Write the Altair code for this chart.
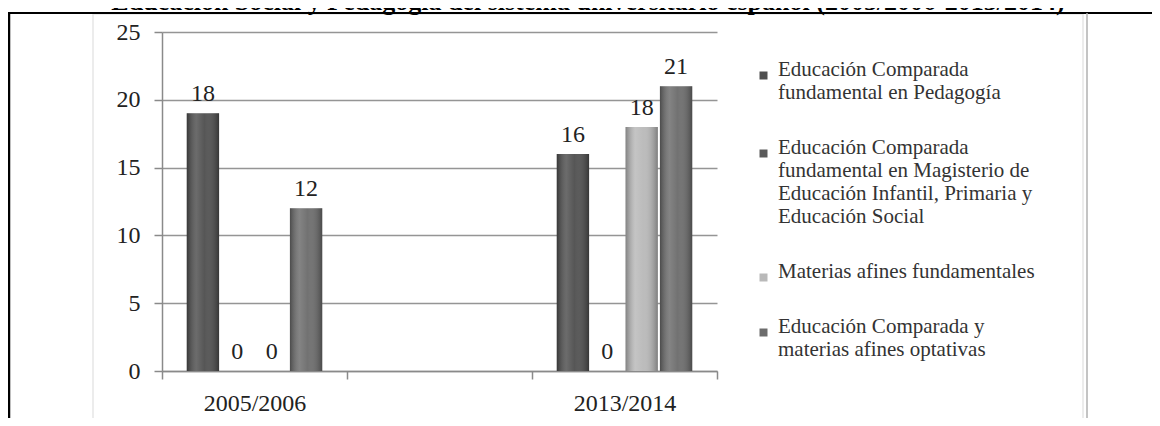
import altair as alt
import pandas as pd

# ---- data ----
categories = ["2005/2006", " ", "2013/2014"]          # middle band is an empty slot on the axis
periods = ["2005/2006", "2013/2014"]
series = [
    "Educación Comparada fundamental en Pedagogía",
    "Educación Comparada fundamental en Magisterio de Educación Infantil, Primaria y Educación Social",
    "Materias afines fundamentales",
    "Educación Comparada y materias afines optativas",
]
legend_lines = [
    ["Educación Comparada", "fundamental en Pedagogía"],
    ["Educación Comparada", "fundamental en Magisterio de", "Educación Infantil, Primaria y", "Educación Social"],
    ["Materias afines fundamentales"],
    ["Educación Comparada y", "materias afines optativas"],
]
bar_heights_2005 = [19, 0, 0, 12]
bar_heights_2013 = [16, 0, 18, 21]
bar_labels_2005 = [18, 0, 0, 12]
bar_labels_2013 = [16, 0, 18, 21]
series_colors = ["#4f4f4f", "#5a5a5a", "#b9b9b9", "#6c6c6c"]
y_ticks = [0, 5, 10, 15, 20, 25]
title_text = "Educación Social y Pedagogía del sistema universitario español  (2005/2006-2013/2014)"

rows = []
for p, hs, ls in [(periods[0], bar_heights_2005, bar_labels_2005),
                  (periods[1], bar_heights_2013, bar_labels_2013)]:
    for s, h, l in zip(series, hs, ls):
        rows.append({"period": p, "series": s, "value": h, "label": str(l)})
df = pd.DataFrame(rows)

# legend label expression: break each series name into its lines
def js_str(s):
    return "'" + s.replace("'", "\\'") + "'"
expr = "datum.label"
for s, lines in reversed(list(zip(series, legend_lines))):
    arr = "[" + ",".join(js_str(x) for x in lines) + "]"
    expr = f"datum.label == {js_str(s)} ? {arr} : ({expr})"

FONT = "Liberation Serif"

x_enc = alt.X("period:N",
              scale=alt.Scale(domain=categories, paddingInner=0, paddingOuter=0),
              axis=alt.Axis(title=None, labelAngle=0, tickBand="extent", tickSize=8,
                            labelPadding=12, grid=False))
xoff_enc = alt.XOffset("series:N",
                       scale=alt.Scale(domain=series, paddingOuter=0.72, paddingInner=0.06))
y_enc = alt.Y("value:Q",
              scale=alt.Scale(domain=[0, 25], nice=False),
              axis=alt.Axis(title=None, values=y_ticks, tickSize=8, labelPadding=14,
                            grid=True, gridColor="#959595", gridWidth=1.7))

base = alt.Chart(df)

bars = base.mark_bar().encode(
    x=x_enc, xOffset=xoff_enc, y=y_enc,
    color=alt.Color("series:N",
                    scale=alt.Scale(domain=series, range=series_colors),
                    legend=alt.Legend(orient="none", legendX=591, legendY=33, title=None,
                                      labelExpr=expr, symbolType="square", symbolSize=64,
                                      symbolStrokeWidth=0, labelFont=FONT, labelFontSize=21,
                                      labelColor="#333333", rowPadding=33,
                                      labelBaseline="alphabetic", labelLimit=500,
                                      labelOffset=4, padding=0)),
)

shade = base.mark_bar(
    color=alt.Gradient(
        gradient="linear", x1=0, x2=1, y1=0, y2=0,
        stops=[alt.GradientStop(offset=0, color="rgba(0,0,0,0.30)"),
               alt.GradientStop(offset=0.3, color="rgba(255,255,255,0.16)"),
               alt.GradientStop(offset=0.55, color="rgba(255,255,255,0.04)"),
               alt.GradientStop(offset=1, color="rgba(0,0,0,0.32)")])
).encode(x=x_enc, xOffset=xoff_enc, y=y_enc)

labels = base.mark_text(baseline="alphabetic", dy=-12, font=FONT, fontSize=24,
                        color="#222222").encode(
    x=x_enc, xOffset=xoff_enc, y=y_enc, text="label:N")

one = alt.Data(values=[{"t": title_text}])
title_mark = alt.Chart(one).mark_text(font=FONT, fontSize=26, fontWeight="bold",
                                      baseline="alphabetic", align="center",
                                      color="black").encode(
    x=alt.value(426), y=alt.value(-22), text="t:N")
frame_top = alt.Chart(one).mark_rule(color="black", strokeWidth=2).encode(
    x=alt.value(-160), x2=alt.value(1000), y=alt.value(-19))
frame_left = alt.Chart(one).mark_rule(color="black", strokeWidth=2.5).encode(
    x=alt.value(-153), y=alt.value(-19), y2=alt.value(400))
frame_right = alt.Chart(one).mark_rule(color="#b0b0b0", strokeWidth=1.5).encode(
    x=alt.value(925), y=alt.value(-19), y2=alt.value(400))
chart_area = alt.Chart(one).mark_rect(fillOpacity=0, stroke="#e6e6e6", strokeWidth=1.5).encode(
    x=alt.value(-69), x2=alt.value(921), y=alt.value(-18), y2=alt.value(389))

chart = alt.layer(chart_area, frame_top, frame_left, frame_right, title_mark,
                  bars, shade, labels).properties(
    width=555, height=339,
    autosize=alt.AutoSizeParams(type="none"),
    padding={"left": 154, "top": 24, "right": 435, "bottom": 47},
).configure_view(stroke=None).configure_axis(
    domainColor="#8a8a8a", tickColor="#8a8a8a", domainWidth=1.5, tickWidth=1.5,
    labelFont=FONT, labelFontSize=24, labelColor="#222222"
)

chart.save("out.html", embed_options={"renderer": "svg", "actions": False})
